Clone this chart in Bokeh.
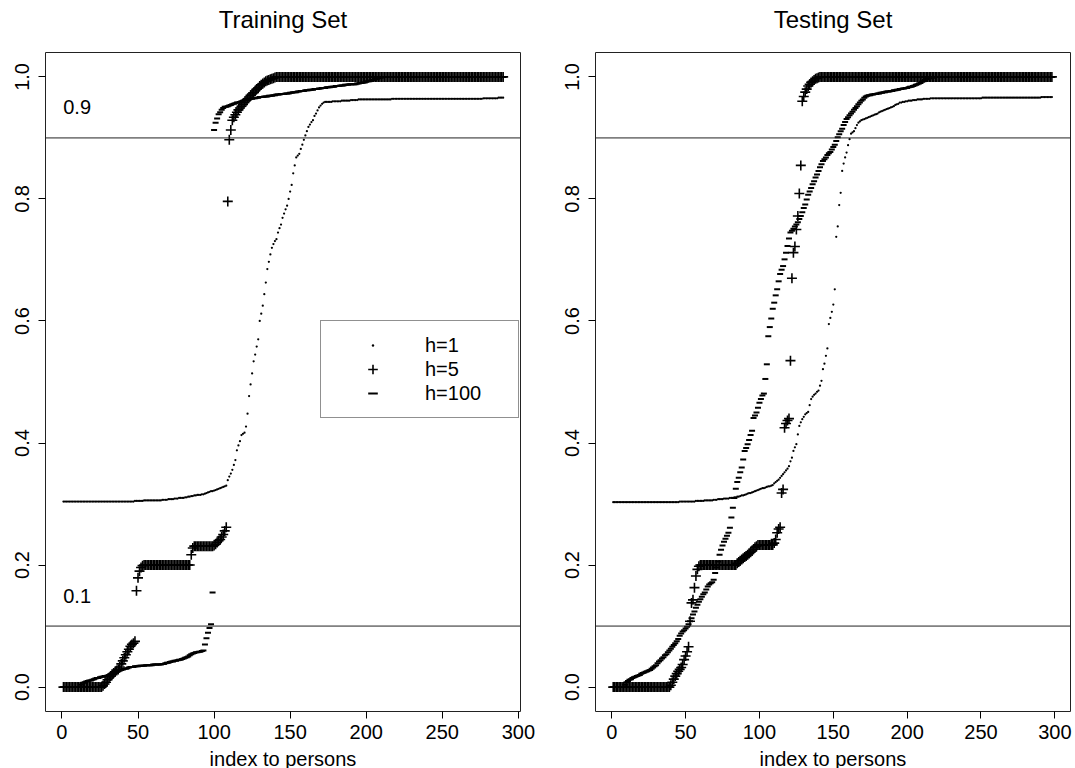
from bokeh.plotting import figure
from bokeh.models import (Range1d, Span, Legend, LegendItem, FixedTicker,
                          PrintfTickFormatter, LinearAxis)
from bokeh.layouts import row
from bokeh.embed import file_html
from bokeh.resources import INLINE
from bokeh.core.properties import value

# ---------------- data ----------------
titles = ["Training Set", "Testing Set"]
series_labels = ["h=1", "h=5", "h=100"]
x_ticks = [0, 50, 100, 150, 200, 250, 300]
y_ticks = [0.0, 0.2, 0.4, 0.6, 0.8, 1.0]
thresholds = [0.1, 0.9]
threshold_text = ["0.1", "0.9"]
threshold_text_x = [10, 10]
threshold_text_y = [0.15, 0.95]
x_axis_label = "index to persons"

train_h1 = [
    0.304, 0.304, 0.304, 0.304, 0.304, 0.304, 0.304, 0.304, 0.304, 0.304, 0.304, 0.304, 0.304, 0.304, 0.304, 0.304, 0.304, 0.304, 0.304, 0.304,
    0.304, 0.304, 0.304, 0.304, 0.304, 0.304, 0.304, 0.304, 0.304, 0.304, 0.304, 0.304, 0.304, 0.304, 0.304, 0.304, 0.304, 0.304, 0.304, 0.304,
    0.304, 0.304, 0.304, 0.304, 0.304, 0.304, 0.304, 0.305, 0.305, 0.305, 0.305, 0.305, 0.305, 0.306, 0.306, 0.306, 0.306, 0.306, 0.306, 0.306,
    0.306, 0.306, 0.306, 0.306, 0.306, 0.307, 0.307, 0.307, 0.307, 0.308, 0.308, 0.308, 0.308, 0.309, 0.309, 0.309, 0.310, 0.310, 0.310, 0.310,
    0.311, 0.311, 0.312, 0.312, 0.313, 0.313, 0.314, 0.314, 0.315, 0.315, 0.315, 0.316, 0.316, 0.317, 0.318, 0.319, 0.320, 0.321, 0.321, 0.322,
    0.323, 0.324, 0.325, 0.326, 0.327, 0.328, 0.329, 0.330, 0.339, 0.345, 0.350, 0.356, 0.364, 0.372, 0.388, 0.396, 0.403, 0.413, 0.415, 0.417,
    0.427, 0.448, 0.477, 0.496, 0.514, 0.534, 0.545, 0.558, 0.570, 0.600, 0.612, 0.625, 0.644, 0.663, 0.685, 0.697, 0.709, 0.720, 0.726, 0.731,
    0.734, 0.745, 0.752, 0.758, 0.769, 0.776, 0.783, 0.789, 0.800, 0.812, 0.823, 0.842, 0.855, 0.868, 0.871, 0.874, 0.882, 0.889, 0.897, 0.904,
    0.911, 0.918, 0.922, 0.926, 0.929, 0.936, 0.940, 0.945, 0.950, 0.953, 0.956, 0.958, 0.959, 0.959, 0.959, 0.959, 0.959, 0.960, 0.960, 0.960,
    0.960, 0.960, 0.960, 0.961, 0.961, 0.961, 0.961, 0.961, 0.961, 0.962, 0.962, 0.962, 0.962, 0.962, 0.963, 0.963, 0.963, 0.963, 0.963, 0.963,
    0.963, 0.963, 0.963, 0.963, 0.963, 0.963, 0.963, 0.963, 0.963, 0.963, 0.963, 0.963, 0.963, 0.963, 0.963, 0.963, 0.964, 0.964, 0.964, 0.964,
    0.964, 0.964, 0.964, 0.964, 0.964, 0.964, 0.964, 0.964, 0.964, 0.964, 0.964, 0.964, 0.964, 0.964, 0.964, 0.964, 0.964, 0.964, 0.964, 0.964,
    0.964, 0.964, 0.964, 0.964, 0.964, 0.964, 0.964, 0.964, 0.964, 0.964, 0.964, 0.964, 0.964, 0.964, 0.964, 0.964, 0.964, 0.964, 0.964, 0.964,
    0.964, 0.964, 0.964, 0.964, 0.964, 0.964, 0.964, 0.964, 0.964, 0.964, 0.964, 0.964, 0.964, 0.964, 0.964, 0.964, 0.965, 0.965, 0.965, 0.965,
    0.965, 0.965, 0.965, 0.965, 0.965, 0.965, 0.966, 0.966, 0.966, 0.966,
]

train_h5 = [
    0.0, 0.0, 0.0, 0.0, 0.0, 0.0, 0.0, 0.0, 0.0, 0.0, 0.0, 0.0, 0.0, 0.0, 0.0, 0.0, 0.0, 0.0, 0.0, 0.0,
    0.0, 0.0, 0.0, 0.0, 0.0, 0.0, 0.002, 0.005, 0.008, 0.012, 0.015, 0.018, 0.021, 0.023, 0.025, 0.027, 0.029, 0.033, 0.038, 0.043,
    0.048, 0.053, 0.058, 0.062, 0.067, 0.070, 0.072, 0.075, 0.158, 0.179, 0.190, 0.196, 0.199, 0.2, 0.2, 0.2, 0.2, 0.2, 0.2, 0.2,
    0.2, 0.2, 0.2, 0.2, 0.2, 0.2, 0.2, 0.2, 0.2, 0.2, 0.2, 0.2, 0.2, 0.2, 0.2, 0.2, 0.2, 0.2, 0.2, 0.2,
    0.2, 0.2, 0.2, 0.2, 0.217, 0.228, 0.231, 0.231, 0.231, 0.231, 0.231, 0.231, 0.231, 0.231, 0.231, 0.231, 0.231, 0.231, 0.231, 0.232,
    0.234, 0.237, 0.240, 0.242, 0.246, 0.250, 0.256, 0.262, 0.796, 0.897, 0.913, 0.929, 0.934, 0.938, 0.942, 0.946, 0.949, 0.952, 0.955, 0.958,
    0.961, 0.964, 0.967, 0.970, 0.972, 0.974, 0.977, 0.980, 0.982, 0.985, 0.987, 0.989, 0.991, 0.993, 0.994, 0.995, 0.996, 0.997, 0.998, 0.999,
    1.0, 1.0, 1.0, 1.0, 1.0, 1.0, 1.0, 1.0, 1.0, 1.0, 1.0, 1.0, 1.0, 1.0, 1.0, 1.0, 1.0, 1.0, 1.0, 1.0,
    1.0, 1.0, 1.0, 1.0, 1.0, 1.0, 1.0, 1.0, 1.0, 1.0, 1.0, 1.0, 1.0, 1.0, 1.0, 1.0, 1.0, 1.0, 1.0, 1.0,
    1.0, 1.0, 1.0, 1.0, 1.0, 1.0, 1.0, 1.0, 1.0, 1.0, 1.0, 1.0, 1.0, 1.0, 1.0, 1.0, 1.0, 1.0, 1.0, 1.0,
    1.0, 1.0, 1.0, 1.0, 1.0, 1.0, 1.0, 1.0, 1.0, 1.0, 1.0, 1.0, 1.0, 1.0, 1.0, 1.0, 1.0, 1.0, 1.0, 1.0,
    1.0, 1.0, 1.0, 1.0, 1.0, 1.0, 1.0, 1.0, 1.0, 1.0, 1.0, 1.0, 1.0, 1.0, 1.0, 1.0, 1.0, 1.0, 1.0, 1.0,
    1.0, 1.0, 1.0, 1.0, 1.0, 1.0, 1.0, 1.0, 1.0, 1.0, 1.0, 1.0, 1.0, 1.0, 1.0, 1.0, 1.0, 1.0, 1.0, 1.0,
    1.0, 1.0, 1.0, 1.0, 1.0, 1.0, 1.0, 1.0, 1.0, 1.0, 1.0, 1.0, 1.0, 1.0, 1.0, 1.0, 1.0, 1.0, 1.0, 1.0,
    1.0, 1.0, 1.0, 1.0, 1.0, 1.0, 1.0, 1.0, 1.0, 1.0,
]

train_h100 = [
    0.0, 0.0, 0.0, 0.0, 0.0, 0.0, 0.0, 0.0, 0.0, 0.0, 0.0, 0.0, 0.004, 0.007, 0.008, 0.009, 0.010, 0.011, 0.011, 0.012,
    0.013, 0.014, 0.015, 0.015, 0.016, 0.017, 0.017, 0.018, 0.018, 0.019, 0.020, 0.021, 0.022, 0.023, 0.024, 0.025, 0.026, 0.027, 0.028, 0.029,
    0.030, 0.030, 0.031, 0.032, 0.033, 0.033, 0.033, 0.034, 0.034, 0.034, 0.035, 0.035, 0.035, 0.035, 0.036, 0.036, 0.036, 0.036, 0.036, 0.037,
    0.037, 0.037, 0.037, 0.037, 0.037, 0.038, 0.038, 0.039, 0.040, 0.040, 0.041, 0.042, 0.042, 0.043, 0.043, 0.044, 0.045, 0.045, 0.046, 0.047,
    0.048, 0.049, 0.050, 0.052, 0.054, 0.055, 0.056, 0.057, 0.057, 0.058, 0.058, 0.059, 0.060, 0.070, 0.080, 0.089, 0.097, 0.103, 0.155, 0.913,
    0.925, 0.932, 0.939, 0.942, 0.946, 0.949, 0.951, 0.951, 0.952, 0.953, 0.954, 0.955, 0.956, 0.957, 0.958, 0.958, 0.959, 0.960, 0.961, 0.962,
    0.962, 0.963, 0.963, 0.964, 0.964, 0.965, 0.965, 0.966, 0.966, 0.967, 0.967, 0.967, 0.968, 0.968, 0.968, 0.969, 0.969, 0.969, 0.970, 0.970,
    0.971, 0.971, 0.971, 0.972, 0.972, 0.972, 0.973, 0.973, 0.973, 0.974, 0.974, 0.975, 0.975, 0.975, 0.976, 0.976, 0.977, 0.977, 0.977, 0.978,
    0.978, 0.978, 0.979, 0.979, 0.979, 0.980, 0.980, 0.980, 0.981, 0.981, 0.982, 0.982, 0.982, 0.983, 0.983, 0.983, 0.984, 0.984, 0.984, 0.985,
    0.985, 0.985, 0.986, 0.986, 0.986, 0.987, 0.987, 0.987, 0.988, 0.988, 0.988, 0.988, 0.988, 0.989, 0.989, 0.990, 0.990, 0.991, 0.991, 0.992,
    0.993, 0.993, 0.994, 0.995, 0.995, 0.996, 0.997, 0.998, 0.999, 0.999, 1.0, 1.0, 1.0, 1.0, 1.0, 1.0, 1.0, 1.0, 1.0, 1.0,
    1.0, 1.0, 1.0, 1.0, 1.0, 1.0, 1.0, 1.0, 1.0, 1.0, 1.0, 1.0, 1.0, 1.0, 1.0, 1.0, 1.0, 1.0, 1.0, 1.0,
    1.0, 1.0, 1.0, 1.0, 1.0, 1.0, 1.0, 1.0, 1.0, 1.0, 1.0, 1.0, 1.0, 1.0, 1.0, 1.0, 1.0, 1.0, 1.0, 1.0,
    1.0, 1.0, 1.0, 1.0, 1.0, 1.0, 1.0, 1.0, 1.0, 1.0, 1.0, 1.0, 1.0, 1.0, 1.0, 1.0, 1.0, 1.0, 1.0, 1.0,
    1.0, 1.0, 1.0, 1.0, 1.0, 1.0, 1.0, 1.0, 1.0, 1.0,
]

test_h1 = [
    0.303, 0.303, 0.303, 0.303, 0.303, 0.303, 0.303, 0.303, 0.303, 0.303, 0.303, 0.303, 0.303, 0.303, 0.303, 0.303, 0.303, 0.303, 0.303, 0.303,
    0.303, 0.303, 0.303, 0.303, 0.303, 0.303, 0.303, 0.303, 0.303, 0.303, 0.303, 0.303, 0.303, 0.303, 0.303, 0.303, 0.303, 0.303, 0.303, 0.303,
    0.303, 0.303, 0.303, 0.303, 0.303, 0.304, 0.304, 0.304, 0.304, 0.304, 0.304, 0.304, 0.304, 0.304, 0.304, 0.304, 0.305, 0.305, 0.305, 0.305,
    0.305, 0.305, 0.306, 0.306, 0.306, 0.306, 0.306, 0.306, 0.307, 0.307, 0.307, 0.308, 0.308, 0.308, 0.308, 0.309, 0.309, 0.309, 0.309, 0.310,
    0.310, 0.310, 0.311, 0.311, 0.312, 0.312, 0.313, 0.314, 0.314, 0.315, 0.316, 0.317, 0.318, 0.318, 0.319, 0.320, 0.321, 0.322, 0.323, 0.324,
    0.325, 0.326, 0.326, 0.327, 0.328, 0.329, 0.329, 0.330, 0.331, 0.334, 0.336, 0.338, 0.340, 0.343, 0.346, 0.349, 0.352, 0.355, 0.358, 0.362,
    0.370, 0.376, 0.387, 0.393, 0.398, 0.414, 0.428, 0.434, 0.439, 0.443, 0.447, 0.449, 0.451, 0.462, 0.472, 0.476, 0.479, 0.481, 0.484, 0.486,
    0.494, 0.502, 0.521, 0.530, 0.543, 0.555, 0.595, 0.605, 0.615, 0.627, 0.652, 0.738, 0.755, 0.790, 0.810, 0.846, 0.858, 0.868, 0.876, 0.888,
    0.898, 0.907, 0.909, 0.911, 0.916, 0.921, 0.925, 0.927, 0.929, 0.930, 0.931, 0.932, 0.933, 0.934, 0.935, 0.936, 0.937, 0.938, 0.939, 0.940,
    0.942, 0.943, 0.944, 0.945, 0.946, 0.947, 0.948, 0.949, 0.950, 0.951, 0.952, 0.954, 0.955, 0.956, 0.958, 0.958, 0.959, 0.959, 0.960, 0.960,
    0.961, 0.961, 0.961, 0.962, 0.962, 0.962, 0.963, 0.963, 0.963, 0.963, 0.964, 0.964, 0.964, 0.964, 0.964, 0.965, 0.965, 0.965, 0.965, 0.965,
    0.965, 0.965, 0.965, 0.965, 0.965, 0.965, 0.965, 0.965, 0.965, 0.965, 0.965, 0.965, 0.965, 0.965, 0.965, 0.965, 0.965, 0.965, 0.965, 0.965,
    0.965, 0.965, 0.965, 0.965, 0.965, 0.965, 0.965, 0.965, 0.965, 0.965, 0.966, 0.966, 0.966, 0.966, 0.966, 0.966, 0.966, 0.966, 0.966, 0.966,
    0.966, 0.966, 0.966, 0.966, 0.966, 0.966, 0.966, 0.966, 0.966, 0.966, 0.966, 0.966, 0.966, 0.966, 0.966, 0.966, 0.966, 0.966, 0.966, 0.966,
    0.966, 0.966, 0.966, 0.966, 0.966, 0.966, 0.966, 0.966, 0.966, 0.966, 0.967, 0.967, 0.967, 0.967, 0.967, 0.967, 0.967, 0.967,
]

test_h5 = [
    0.0, 0.0, 0.0, 0.0, 0.0, 0.0, 0.0, 0.0, 0.0, 0.0, 0.0, 0.0, 0.0, 0.0, 0.0, 0.0, 0.0, 0.0, 0.0, 0.0,
    0.0, 0.0, 0.0, 0.0, 0.0, 0.0, 0.0, 0.0, 0.0, 0.0, 0.0, 0.0, 0.0, 0.0, 0.0, 0.0, 0.0, 0.0, 0.0, 0.003,
    0.008, 0.013, 0.018, 0.022, 0.026, 0.029, 0.032, 0.037, 0.045, 0.051, 0.058, 0.066, 0.108, 0.138, 0.143, 0.163, 0.182, 0.193, 0.198, 0.2,
    0.2, 0.2, 0.2, 0.2, 0.2, 0.2, 0.2, 0.2, 0.2, 0.2, 0.2, 0.2, 0.2, 0.2, 0.2, 0.2, 0.2, 0.2, 0.2, 0.2,
    0.2, 0.2, 0.2, 0.2, 0.203, 0.205, 0.207, 0.209, 0.211, 0.213, 0.215, 0.217, 0.219, 0.221, 0.223, 0.226, 0.229, 0.231, 0.233, 0.233,
    0.233, 0.233, 0.233, 0.233, 0.233, 0.233, 0.233, 0.233, 0.233, 0.236, 0.242, 0.253, 0.259, 0.262, 0.318, 0.324, 0.425, 0.432, 0.437, 0.440,
    0.535, 0.670, 0.712, 0.722, 0.750, 0.772, 0.809, 0.855, 0.960, 0.968, 0.975, 0.980, 0.985, 0.988, 0.991, 0.993, 0.995, 0.997, 0.998, 0.999,
    1.0, 1.0, 1.0, 1.0, 1.0, 1.0, 1.0, 1.0, 1.0, 1.0, 1.0, 1.0, 1.0, 1.0, 1.0, 1.0, 1.0, 1.0, 1.0, 1.0,
    1.0, 1.0, 1.0, 1.0, 1.0, 1.0, 1.0, 1.0, 1.0, 1.0, 1.0, 1.0, 1.0, 1.0, 1.0, 1.0, 1.0, 1.0, 1.0, 1.0,
    1.0, 1.0, 1.0, 1.0, 1.0, 1.0, 1.0, 1.0, 1.0, 1.0, 1.0, 1.0, 1.0, 1.0, 1.0, 1.0, 1.0, 1.0, 1.0, 1.0,
    1.0, 1.0, 1.0, 1.0, 1.0, 1.0, 1.0, 1.0, 1.0, 1.0, 1.0, 1.0, 1.0, 1.0, 1.0, 1.0, 1.0, 1.0, 1.0, 1.0,
    1.0, 1.0, 1.0, 1.0, 1.0, 1.0, 1.0, 1.0, 1.0, 1.0, 1.0, 1.0, 1.0, 1.0, 1.0, 1.0, 1.0, 1.0, 1.0, 1.0,
    1.0, 1.0, 1.0, 1.0, 1.0, 1.0, 1.0, 1.0, 1.0, 1.0, 1.0, 1.0, 1.0, 1.0, 1.0, 1.0, 1.0, 1.0, 1.0, 1.0,
    1.0, 1.0, 1.0, 1.0, 1.0, 1.0, 1.0, 1.0, 1.0, 1.0, 1.0, 1.0, 1.0, 1.0, 1.0, 1.0, 1.0, 1.0, 1.0, 1.0,
    1.0, 1.0, 1.0, 1.0, 1.0, 1.0, 1.0, 1.0, 1.0, 1.0, 1.0, 1.0, 1.0, 1.0, 1.0, 1.0, 1.0, 1.0,
]

test_h100 = [
    0.0, 0.0, 0.0, 0.0, 0.0, 0.0, 0.0, 0.0, 0.004, 0.008, 0.010, 0.012, 0.013, 0.015, 0.016, 0.017, 0.018, 0.019, 0.020, 0.022,
    0.023, 0.024, 0.025, 0.026, 0.027, 0.028, 0.030, 0.032, 0.034, 0.036, 0.039, 0.042, 0.044, 0.047, 0.049, 0.052, 0.054, 0.057, 0.060, 0.063,
    0.066, 0.069, 0.072, 0.075, 0.079, 0.084, 0.088, 0.091, 0.093, 0.096, 0.099, 0.103, 0.108, 0.113, 0.119, 0.124, 0.130, 0.135, 0.140, 0.144,
    0.148, 0.152, 0.155, 0.160, 0.165, 0.168, 0.170, 0.172, 0.176, 0.187, 0.196, 0.206, 0.217, 0.225, 0.232, 0.238, 0.243, 0.248, 0.253, 0.261,
    0.278, 0.294, 0.310, 0.325, 0.336, 0.343, 0.352, 0.360, 0.373, 0.387, 0.392, 0.398, 0.405, 0.413, 0.420, 0.441, 0.445, 0.450, 0.458, 0.466,
    0.472, 0.478, 0.481, 0.505, 0.529, 0.575, 0.590, 0.604, 0.620, 0.630, 0.642, 0.652, 0.665, 0.677, 0.684, 0.690, 0.701, 0.712, 0.723, 0.735,
    0.745, 0.748, 0.751, 0.755, 0.758, 0.762, 0.767, 0.772, 0.778, 0.785, 0.791, 0.799, 0.807, 0.812, 0.818, 0.824, 0.829, 0.835, 0.840, 0.846,
    0.852, 0.857, 0.862, 0.865, 0.868, 0.872, 0.875, 0.877, 0.881, 0.885, 0.889, 0.895, 0.901, 0.906, 0.911, 0.915, 0.921, 0.926, 0.931, 0.934,
    0.937, 0.940, 0.943, 0.946, 0.949, 0.952, 0.955, 0.958, 0.961, 0.963, 0.966, 0.968, 0.969, 0.970, 0.970, 0.971, 0.971, 0.972, 0.972, 0.973,
    0.973, 0.974, 0.974, 0.975, 0.975, 0.976, 0.976, 0.976, 0.977, 0.977, 0.978, 0.978, 0.979, 0.979, 0.980, 0.980, 0.981, 0.981, 0.982, 0.982,
    0.983, 0.984, 0.984, 0.985, 0.986, 0.987, 0.988, 0.989, 0.990, 0.992, 0.993, 0.995, 0.996, 0.997, 0.998, 0.998, 0.999, 0.999, 1.0, 1.0,
    1.0, 1.0, 1.0, 1.0, 1.0, 1.0, 1.0, 1.0, 1.0, 1.0, 1.0, 1.0, 1.0, 1.0, 1.0, 1.0, 1.0, 1.0, 1.0, 1.0,
    1.0, 1.0, 1.0, 1.0, 1.0, 1.0, 1.0, 1.0, 1.0, 1.0, 1.0, 1.0, 1.0, 1.0, 1.0, 1.0, 1.0, 1.0, 1.0, 1.0,
    1.0, 1.0, 1.0, 1.0, 1.0, 1.0, 1.0, 1.0, 1.0, 1.0, 1.0, 1.0, 1.0, 1.0, 1.0, 1.0, 1.0, 1.0, 1.0, 1.0,
    1.0, 1.0, 1.0, 1.0, 1.0, 1.0, 1.0, 1.0, 1.0, 1.0, 1.0, 1.0, 1.0, 1.0, 1.0, 1.0, 1.0, 1.0,
]

# ---------------- styling ----------------
FONT = "Liberation Sans"
FRAME_W = 475
FRAME_H = 659
TOP = 52
BOTTOM = 57


def make_panel(title, h1, h5, h100, x_start, x_end, left, right,
               with_legend=False, with_notes=False):
    p = figure(title=None, frame_width=FRAME_W, frame_height=FRAME_H,
               min_border_left=left, min_border_right=right,
               min_border_top=TOP, min_border_bottom=BOTTOM,
               x_range=Range1d(x_start, x_end), y_range=Range1d(-0.04, 1.04),
               output_backend="svg", toolbar_location=None,
               background_fill_color="white", border_fill_color="white",
               outline_line_color="#222222", outline_line_width=1)
    p.grid.visible = False

    xax = p.below[0]
    yax = p.left[0]

    # panel title: label of a tick-less axis above the frame
    top_axis = LinearAxis(ticker=FixedTicker(ticks=[]), axis_label=title)
    top_axis.axis_line_color = None
    top_axis.major_tick_line_color = None
    top_axis.minor_tick_line_color = None
    top_axis.axis_label_text_font = FONT
    top_axis.axis_label_text_font_size = "24px"
    top_axis.axis_label_text_font_style = "normal"
    top_axis.axis_label_text_color = "black"
    top_axis.axis_label_standoff = 20
    p.add_layout(top_axis, "above")

    for ax in (xax, yax):
        ax.axis_line_color = None
        ax.major_tick_line_color = "black"
        ax.major_tick_line_width = 1
        ax.major_tick_out = 7
        ax.major_tick_in = 0
        ax.minor_tick_line_color = None
        ax.major_label_text_font = FONT
        ax.major_label_text_font_size = "20px"
        ax.major_label_text_color = "black"
    xax.ticker = FixedTicker(ticks=x_ticks)
    xax.major_label_standoff = 6
    xax.axis_label = x_axis_label
    xax.axis_label_text_font = FONT
    xax.axis_label_text_font_size = "20px"
    xax.axis_label_text_font_style = "normal"
    xax.axis_label_text_color = "black"
    xax.axis_label_standoff = 6
    yax.ticker = FixedTicker(ticks=y_ticks)
    yax.formatter = PrintfTickFormatter(format="%.1f")
    yax.major_label_orientation = "vertical"
    yax.major_label_standoff = 9

    for t in thresholds:
        p.add_layout(Span(location=t, dimension="width", line_color="#222222", line_width=1))

    x1 = list(range(1, len(h1) + 1))
    x5 = list(range(1, len(h5) + 1))
    x100 = list(range(1, len(h100) + 1))
    r1 = p.scatter(x1, h1, marker="dot", size=9, line_color="black", fill_color="black")
    r5 = p.scatter(x5, h5, marker="cross", size=10, line_color="black", line_width=1.6)
    r100 = p.scatter(x100, h100, marker="dash", size=6, line_color="black", line_width=2)

    if with_notes:
        p.text(x=threshold_text_x, y=threshold_text_y, text=threshold_text,
               text_font=value(FONT), text_font_size=value("20px"),
               text_align="center", text_baseline="middle", text_color="black")

    if with_legend:
        legend = Legend(items=[LegendItem(label=series_labels[0], renderers=[r1]),
                               LegendItem(label=series_labels[1], renderers=[r5]),
                               LegendItem(label=series_labels[2], renderers=[r100])],
                        location=(275, 293))
        legend.label_text_font = FONT
        legend.label_text_font_size = "20px"
        legend.label_text_color = "black"
        legend.glyph_width = 79
        legend.glyph_height = 24
        legend.label_height = 24
        legend.label_width = 81
        legend.label_standoff = 13
        legend.padding = 12
        legend.spacing = 0
        legend.margin = 0
        legend.border_line_color = "#222222"
        legend.border_line_width = 1
        legend.background_fill_color = "white"
        legend.background_fill_alpha = 1.0
        p.add_layout(legend)
    return p


p1 = make_panel(titles[0], train_h1, train_h5, train_h100,
                -10.8, 301.4, 45, 37, with_legend=True, with_notes=True)
p2 = make_panel(titles[1], test_h1, test_h5, test_h100,
                -11.0, 310.6, 38, 5)

layout = row(p1, p2)
open("out.html", "w").write(file_html(layout, INLINE))
